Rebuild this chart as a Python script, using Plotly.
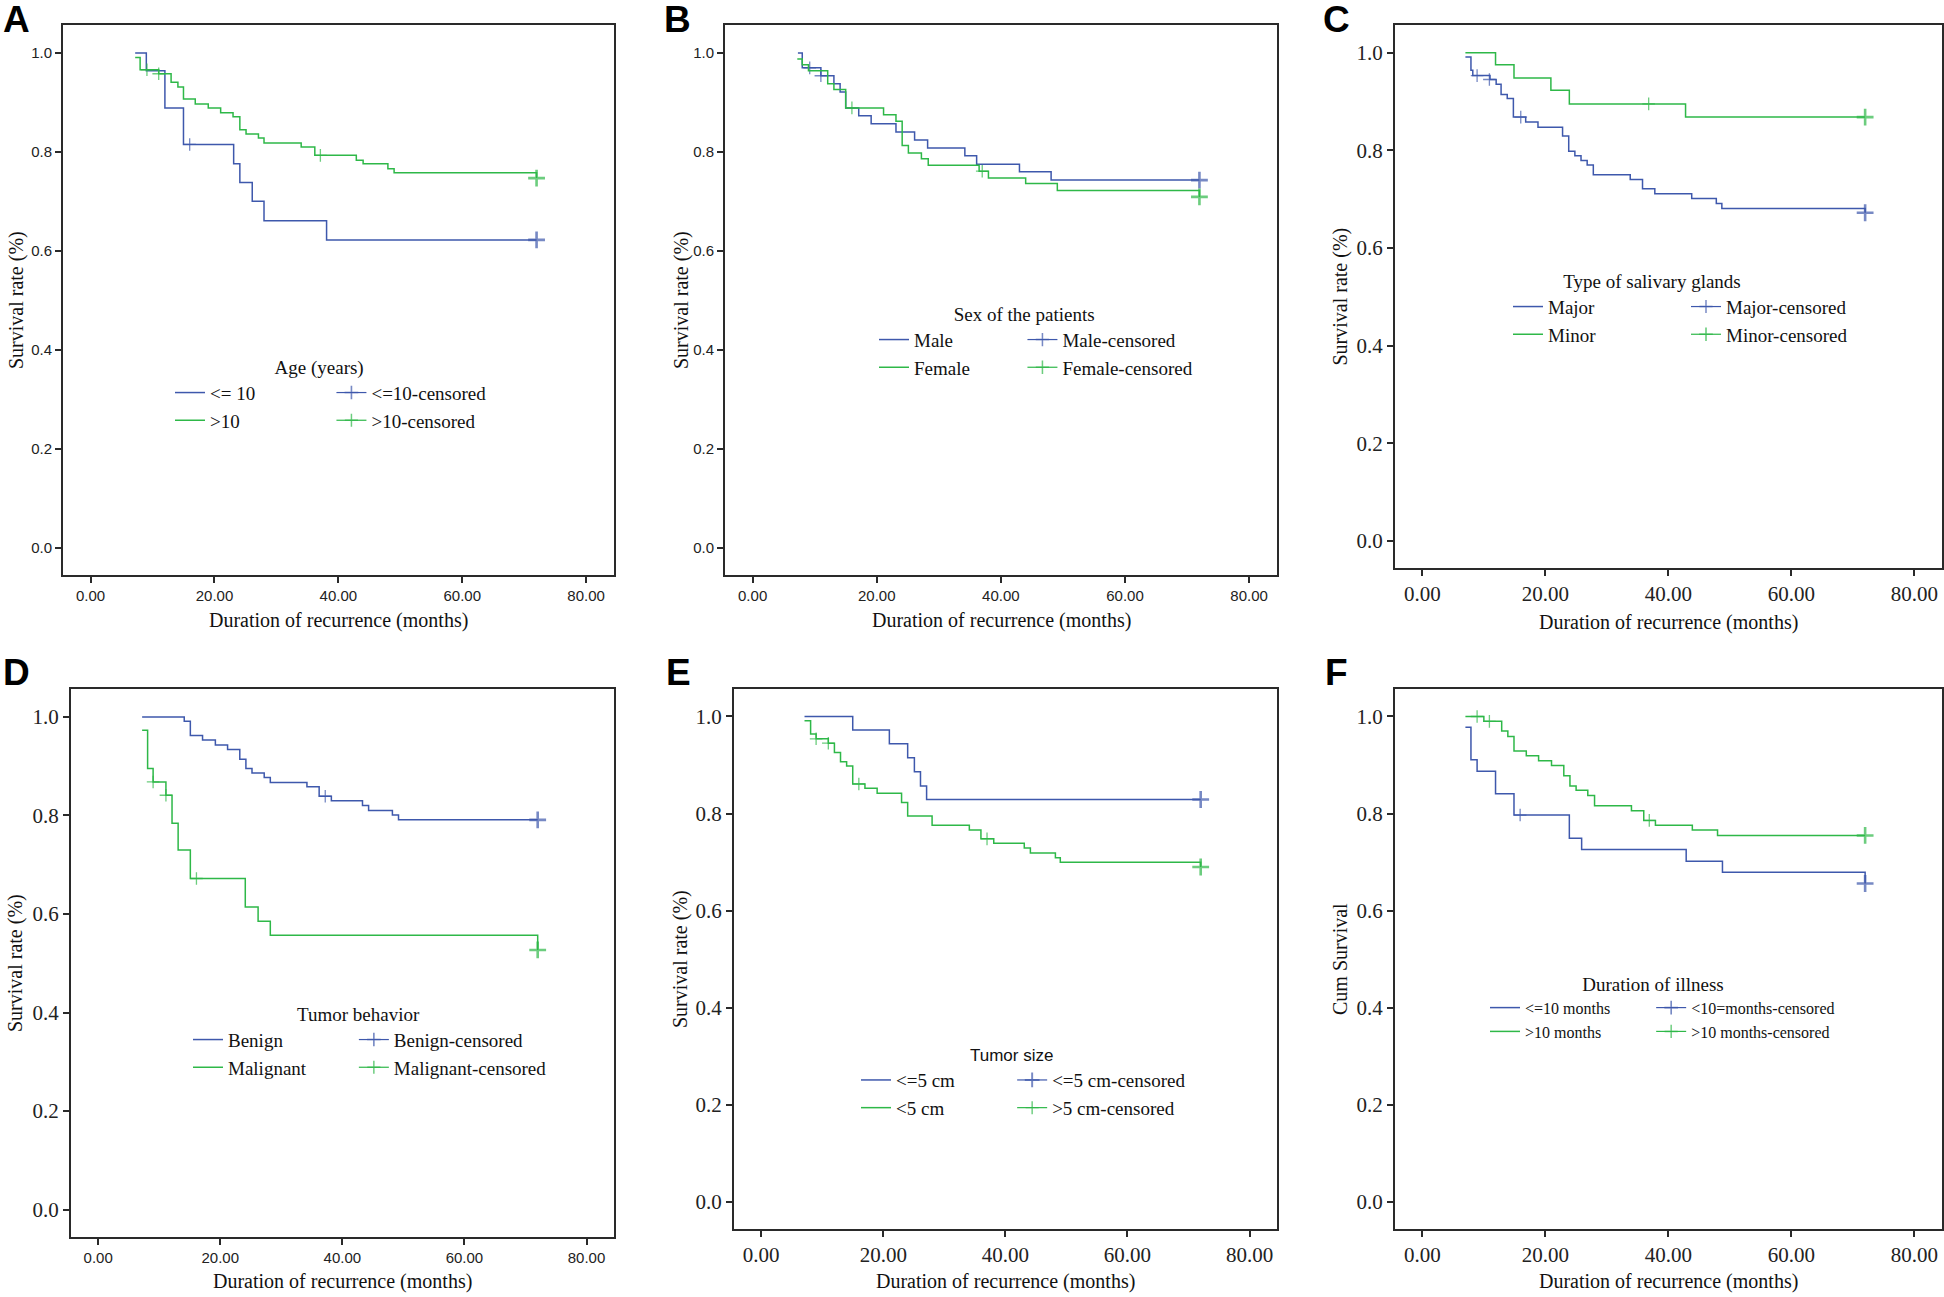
import plotly.graph_objects as go

W, H = 1944, 1297
BLUE = "#3e58ac"
GREEN = "#2eb848"
FRAME = "#2a2a2a"
SERIF = "Liberation Serif, Times New Roman, serif"
SANS = "Liberation Sans, Arial, sans-serif"
NB = "\u00a0"

# ---------------- data (months, survival) ----------------
# A: Age (years)
A_le10_t = [7.2, 9.0, 12.0, 15.0, 23.1, 24.1, 26.1, 28.0, 38.1, 72.0]
A_le10_s = [1.000, 0.964, 0.889, 0.815, 0.776, 0.738, 0.700, 0.661, 0.622, 0.622]
A_le10_ct = [16.0, 72.0]
A_le10_cs = [0.815, 0.622]
A_gt10_t = [7.2, 8.0, 11.0, 13.0, 14.1, 15.0, 16.9, 19.0, 21.0, 23.0, 24.1, 25.1, 27.1, 28.0,
            34.0, 36.2, 42.9, 44.0, 48.0, 49.0, 72.0, 72.0]
A_gt10_s = [0.991, 0.966, 0.958, 0.941, 0.931, 0.907, 0.897, 0.889, 0.879, 0.871, 0.845, 0.836,
            0.828, 0.818, 0.810, 0.793, 0.783, 0.776, 0.766, 0.758, 0.758, 0.747]
A_gt10_ct = [9.1, 11.0, 37.1, 72.0]
A_gt10_cs = [0.966, 0.958, 0.793, 0.747]

# B: Sex of the patients
B_male_t = [7.3, 8.0, 11.0, 13.1, 14.1, 15.0, 17.1, 19.1, 23.1, 26.1, 28.2, 34.2, 36.1, 43.0, 48.1, 72.0]
B_male_s = [1.000, 0.970, 0.954, 0.938, 0.921, 0.889, 0.873, 0.857, 0.840, 0.824, 0.808, 0.792,
            0.775, 0.760, 0.743, 0.743]
B_male_ct = [9.2, 11.0, 72.0]
B_male_cs = [0.970, 0.954, 0.743]
B_fem_t = [7.2, 8.0, 9.0, 12.1, 13.1, 15.0, 21.1, 23.1, 24.1, 25.1, 27.2, 28.3, 36.5, 38.0, 44.0,
           49.1, 72.0, 72.0]
B_fem_s = [0.988, 0.976, 0.964, 0.938, 0.926, 0.889, 0.875, 0.862, 0.813, 0.798, 0.786, 0.773,
           0.761, 0.747, 0.736, 0.722, 0.722, 0.709]
B_fem_ct = [16.0, 37.0, 72.0]
B_fem_cs = [0.889, 0.761, 0.709]

# C: Type of salivary glands
C_major_t = [7.0, 7.9, 8.2, 11.0, 12.0, 12.8, 13.8, 14.8, 16.8, 18.8, 22.8, 23.8, 24.8, 25.8, 26.8,
             27.8, 33.8, 35.8, 37.8, 43.8, 47.8, 48.7, 72.0, 72.0]
C_major_s = [0.991, 0.964, 0.953, 0.945, 0.935, 0.914, 0.906, 0.868, 0.858, 0.847, 0.829, 0.798,
             0.789, 0.779, 0.770, 0.750, 0.740, 0.721, 0.711, 0.701, 0.691, 0.681, 0.681, 0.672]
C_major_ct = [8.9, 10.9, 16.0, 72.0]
C_major_cs = [0.953, 0.945, 0.868, 0.672]
C_minor_t = [7.0, 11.9, 14.9, 20.9, 23.9, 42.8, 72.0]
C_minor_s = [1.000, 0.975, 0.948, 0.923, 0.895, 0.868, 0.868]
C_minor_ct = [36.8, 72.0]
C_minor_cs = [0.895, 0.868]

# D: Tumor behavior
D_ben_t = [7.2, 14.1, 15.1, 17.1, 19.2, 21.2, 23.2, 24.2, 25.2, 27.2, 28.2, 34.2, 36.2, 38.2,
           43.3, 44.3, 48.2, 49.2, 72.0]
D_ben_s = [1.000, 0.991, 0.962, 0.953, 0.943, 0.934, 0.914, 0.895, 0.886, 0.877, 0.867, 0.858,
           0.839, 0.830, 0.820, 0.810, 0.801, 0.791, 0.791]
D_ben_ct = [37.2, 72.0]
D_ben_cs = [0.839, 0.791]
D_mal_t = [7.2, 8.1, 9.0, 11.1, 12.1, 13.1, 15.1, 24.1, 26.2, 28.2, 72.0, 72.0]
D_mal_s = [0.973, 0.895, 0.868, 0.841, 0.784, 0.730, 0.672, 0.614, 0.585, 0.557, 0.557, 0.527]
D_mal_ct = [9.0, 11.1, 16.1, 72.0]
D_mal_cs = [0.868, 0.841, 0.672, 0.527]

# E: Tumor size
E_le5_t = [7.1, 15.0, 21.0, 24.0, 25.1, 26.1, 27.1, 72.0]
E_le5_s = [1.000, 0.972, 0.944, 0.915, 0.886, 0.857, 0.829, 0.829]
E_le5_ct = [72.0]
E_le5_cs = [0.829]
E_gt5_t = [7.1, 8.1, 9.0, 11.0, 12.0, 13.0, 14.0, 15.0, 17.0, 19.0, 23.0, 24.0, 28.0, 34.1, 36.0,
           38.1, 43.1, 44.1, 48.2, 49.0, 72.0, 72.0]
E_gt5_s = [0.991, 0.964, 0.954, 0.945, 0.926, 0.907, 0.898, 0.861, 0.852, 0.842, 0.823, 0.795,
           0.776, 0.766, 0.748, 0.739, 0.729, 0.719, 0.709, 0.700, 0.700, 0.690]
E_gt5_ct = [9.0, 11.0, 16.0, 37.0, 72.0]
E_gt5_cs = [0.954, 0.945, 0.861, 0.748, 0.690]

# F: Duration of illness
F_le10_t = [7.0, 7.9, 8.9, 11.9, 14.9, 23.9, 25.9, 42.9, 48.8, 72.0, 72.0]
F_le10_s = [0.978, 0.911, 0.887, 0.841, 0.797, 0.749, 0.726, 0.702, 0.679, 0.679, 0.656]
F_le10_ct = [15.9, 72.0]
F_le10_cs = [0.797, 0.656]
F_gt10_t = [7.0, 10.0, 12.9, 13.9, 14.9, 16.9, 18.9, 21.0, 23.0, 24.0, 25.0, 26.9, 28.0, 34.0,
            36.0, 37.9, 43.9, 48.0, 72.0]
F_gt10_s = [1.000, 0.990, 0.970, 0.959, 0.929, 0.919, 0.909, 0.899, 0.878, 0.857, 0.848, 0.837,
            0.816, 0.806, 0.786, 0.776, 0.766, 0.755, 0.755]
F_gt10_ct = [8.9, 10.9, 36.9, 72.0]
F_gt10_cs = [1.000, 0.990, 0.786, 0.755]

x_ticks = [0, 20, 40, 60, 80]
y_ticks = [0.0, 0.2, 0.4, 0.6, 0.8, 1.0]

# ---------------- layout geometry (pixels) ----------------
# pads = trailing no-break spaces on the first-column legend labels (widens that column);
# tpad = trailing no-break spaces on the legend title (nudges the centred title left)
panels = [
    dict(letter="A", lpos=(16, 19), x0=63, x1=614, yt=25, yb=575, xf=(SANS, 15), yf=(SANS, 15),
         ytitle="Survival rate (%)", ltitle="Age (years)", xty=620, pads=(15, 0), tpad=5,
         series=[("<= 10", "<=10-censored", A_le10_t, A_le10_s, A_le10_ct, A_le10_cs, BLUE),
                 (">10", ">10-censored", A_gt10_t, A_gt10_s, A_gt10_ct, A_gt10_cs, GREEN)],
         leg=(170, 349), lfont=19, ltfont=(SERIF, 19), ytx=16),
    dict(letter="B", lpos=(677, 19), x0=725, x1=1277, yt=25, yb=575, xf=(SANS, 15), yf=(SANS, 15),
         ytitle="Survival rate (%)", ltitle="Sex of the patients", xty=620, pads=(0, 10), tpad=5,
         series=[("Male", "Male-censored", B_male_t, B_male_s, B_male_ct, B_male_cs, BLUE),
                 ("Female", "Female-censored", B_fem_t, B_fem_s, B_fem_ct, B_fem_cs, GREEN)],
         leg=(874, 296), lfont=19, ltfont=(SERIF, 19), ytx=681),
    dict(letter="C", lpos=(1336, 19), x0=1395, x1=1942, yt=25, yb=568, xf=(SERIF, 21), yf=(SERIF, 21),
         ytitle="Survival rate (%)", ltitle="Type of salivary glands", xty=622, pads=(0, 18), tpad=12,
         series=[("Major", "Major-censored", C_major_t, C_major_s, C_major_ct, C_major_cs, BLUE),
                 ("Minor", "Minor-censored", C_minor_t, C_minor_s, C_minor_ct, C_minor_cs, GREEN)],
         leg=(1508, 263), lfont=19, ltfont=(SERIF, 19), ytx=1340),
    dict(letter="D", lpos=(16, 672), x0=71, x1=614, yt=689, yb=1237, xf=(SANS, 15), yf=(SERIF, 21),
         ytitle="Survival rate (%)", ltitle="Tumor behavior", xty=1281, pads=(0, 9), tpad=5,
         series=[("Benign", "Benign-censored", D_ben_t, D_ben_s, D_ben_ct, D_ben_cs, BLUE),
                 ("Malignant", "Malignant-censored", D_mal_t, D_mal_s, D_mal_ct, D_mal_cs, GREEN)],
         leg=(188, 996), lfont=19, ltfont=(SERIF, 19), ytx=16),
    dict(letter="E", lpos=(678, 672), x0=734, x1=1277, yt=689, yb=1229, xf=(SERIF, 21), yf=(SERIF, 21),
         ytitle="Survival rate (%)", ltitle="Tumor size", xty=1281, pads=(11, 0), tpad=5,
         series=[("<=5 cm", "<=5 cm-censored", E_le5_t, E_le5_s, E_le5_ct, E_le5_cs, BLUE),
                 ("<5 cm", ">5 cm-censored", E_gt5_t, E_gt5_s, E_gt5_ct, E_gt5_cs, GREEN)],
         leg=(856, 1039), lfont=19, ltfont=(SANS, 17), ytx=680),
    dict(letter="F", lpos=(1336, 672), x0=1395, x1=1942, yt=689, yb=1229, xf=(SERIF, 21), yf=(SERIF, 21),
         ytitle="Cum Survival", ltitle="Duration of illness", xty=1281, pads=(9, 0), tpad=4,
         series=[("<=10 months", "<10=months-censored", F_le10_t, F_le10_s, F_le10_ct, F_le10_cs, BLUE),
                 (">10 months", ">10 months-censored", F_gt10_t, F_gt10_s, F_gt10_ct, F_gt10_cs, GREEN)],
         leg=(1485, 966), lfont=16, ltfont=(SERIF, 19), ytx=1340),
]

fig = go.Figure()
annotations = []
layout_axes = {}

for i, p in enumerate(panels):
    n = i + 1
    xa = "x" if n == 1 else f"x{n}"
    ya = "y" if n == 1 else f"y{n}"
    lg = "legend" if n == 1 else f"legend{n}"

    for j, (lname, cname, t, s, ct, cs, col) in enumerate(p["series"]):
        fig.add_trace(go.Scatter(
            x=t, y=s, mode="lines", line=dict(color=col, width=1.5, shape="hv"),
            name=lname + NB * p["pads"][j], legendgroup="curve", legend=lg,
            xaxis=xa, yaxis=ya, hoverinfo="skip"))
        # censored marks: points separated by gaps so no connecting line is drawn
        cx, cy, sizes, widths = [], [], [], []
        for k, (tx, sy) in enumerate(zip(ct, cs)):
            cx += [tx, None]
            cy += [sy, None]
            last = (k == len(ct) - 1 and tx >= 70)
            sizes += [12 if last else 9, 9]
            widths += [2.6 if last else 1.3, 1.3]
        fig.add_trace(go.Scatter(
            x=cx, y=cy, mode="lines+markers", connectgaps=False,
            line=dict(color=col, width=1.2),
            marker=dict(symbol="cross-thin", size=sizes, color=col,
                        line=dict(color=col, width=widths)),
            name=cname, legendgroup="cens", legend=lg, xaxis=xa, yaxis=ya,
            hoverinfo="skip"))

    dom_x = [p["x0"] / W, p["x1"] / W]
    dom_y = [1 - p["yb"] / H, 1 - p["yt"] / H]
    common = dict(showline=True, linecolor=FRAME, linewidth=2, mirror=True,
                  ticks="outside", ticklen=6, tickwidth=2, tickcolor=FRAME,
                  showgrid=False, zeroline=False, fixedrange=True)
    layout_axes["xaxis" if n == 1 else f"xaxis{n}"] = dict(
        domain=dom_x, anchor=ya, range=[-4.45, 84.5], tickvals=x_ticks, tickformat=".2f",
        tickfont=dict(family=p["xf"][0], size=p["xf"][1], color="#222"), **common)
    layout_axes["yaxis" if n == 1 else f"yaxis{n}"] = dict(
        domain=dom_y, anchor=xa, range=[-0.0556, 1.0566], tickvals=y_ticks, tickformat=".1f",
        tickfont=dict(family=p["yf"][0], size=p["yf"][1], color="#222"), **common)

    layout_axes[lg] = dict(
        orientation="h", traceorder="grouped", x=p["leg"][0] / W, y=1 - p["leg"][1] / H,
        xanchor="left", yanchor="top", bgcolor="rgba(0,0,0,0)",
        font=dict(family=SERIF, size=p["lfont"], color="#111"),
        title=dict(text=p["ltitle"] + NB * p["tpad"], side="top center",
                   font=dict(family=p["ltfont"][0], size=p["ltfont"][1], color="#111")),
        itemclick=False, itemdoubleclick=False)

    # panel letter
    annotations.append(dict(text=f"<b>{p['letter']}</b>", x=p["lpos"][0] / W,
                            y=1 - p["lpos"][1] / H, xref="paper", yref="paper",
                            xanchor="center", yanchor="middle", showarrow=False,
                            font=dict(family=SANS, size=37, color="#000")))
    # x title
    annotations.append(dict(text="Duration of recurrence (months)",
                            x=(p["x0"] + p["x1"]) / 2 / W, y=1 - p["xty"] / H,
                            xref="paper", yref="paper", xanchor="center", yanchor="middle",
                            showarrow=False, font=dict(family=SERIF, size=20, color="#111")))
    # y title
    annotations.append(dict(text=p["ytitle"], textangle=-90,
                            x=p["ytx"] / W, y=1 - (p["yt"] + p["yb"]) / 2 / H,
                            xref="paper", yref="paper", xanchor="center", yanchor="middle",
                            showarrow=False, font=dict(family=SERIF, size=20, color="#111")))

fig.update_layout(width=W, height=H, margin=dict(l=0, r=0, t=0, b=0),
                  paper_bgcolor="white", plot_bgcolor="white", showlegend=True,
                  annotations=annotations, **layout_axes)

fig.write_html("out.html", config={"displayModeBar": False},
               post_script="document.body.style.margin='0px';document.body.style.overflow='hidden';")
